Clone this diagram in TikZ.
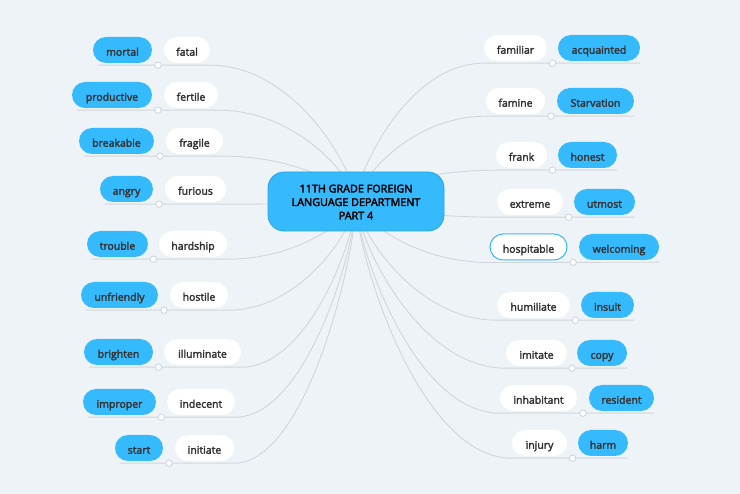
\documentclass[tikz,border=0pt]{standalone}
\usepackage{fontspec}
\newfontfamily\mapfont{Open Sans}[FakeBold=2.6]
\newfontfamily\rootfont{Open Sans}[FakeBold=3.2]
\usetikzlibrary{calc}
\definecolor{bg}{HTML}{EEF3F7}
\definecolor{nodeblue}{HTML}{35BAFD}
\definecolor{rootedge}{HTML}{27A6E6}
\definecolor{txt}{HTML}{333333}
\definecolor{conn}{HTML}{D0D6DB}
\pgfdeclarelayer{front}
\pgfsetlayers{main,front}
\tikzset{
  leaf/.style={rounded corners=13pt, minimum height=26pt, inner sep=0pt,
    text height=11.5pt, text depth=0pt,
    font=\mapfont\fontsize{10.5}{12}\selectfont, text=txt},
  bluebox/.style={leaf, fill=nodeblue},
  whitebox/.style={leaf, fill=white},
  picked/.style={draw=nodeblue, line width=1pt},
  link/.style={draw=conn, line width=0.9pt},
  joint/.style={circle, draw=conn, fill=white, minimum size=6.5pt, inner sep=0pt, line width=0.9pt},
  rootbox/.style={rounded corners=16pt, fill=nodeblue, draw=rootedge, line width=0.8pt,
    minimum width=176pt, minimum height=59pt, inner sep=0pt, align=center,
    font=\rootfont\fontsize{10.8}{13.5}\selectfont, text=black},
}
% left pair: id, blue text, bx1, bx2, white text, wx1, wx2, ytop
\newcommand\lpair[8]{%
  \node[bluebox, minimum width={#4pt-#3pt}] (b#1) at ({(#3+#4)/2},{#8+13}) {#2};
  \node[whitebox, minimum width={#7pt-#6pt}] (w#1) at ({(#6+#7)/2},{#8+13}) {#5};}
% right pair: [extra], id, white text, wx1, wx2, blue text, bx1, bx2, ytop
\newcommand\rpair[9][]{%
  \node[whitebox, minimum width={#5pt-#4pt}, #1] (w#2) at ({(#4+#5)/2},{#9+13}) {#3};
  \node[bluebox, minimum width={#8pt-#7pt}] (b#2) at ({(#7+#8)/2},{#9+13}) {#6};}
\newcommand\llink[1]{%
  \coordinate (e#1) at ([yshift=-2pt]w#1.south east);
  \coordinate (f#1) at ([xshift=5pt,yshift=-2pt]b#1.south west);
  \coordinate (k#1) at (root.center |- e#1);
  \draw[link] (root.center) .. controls ($(root.center)!0.2!(k#1)$) and ($(e#1)!0.6!(k#1)$) .. (e#1) -- (f#1);
  \node[joint] (j#1) at ($([yshift=-2pt]b#1.south east)!0.5!([yshift=-2pt]w#1.south west)$) {};}
\newcommand\rlink[1]{%
  \coordinate (e#1) at ([yshift=-2pt]w#1.south west);
  \coordinate (f#1) at ([yshift=-2pt]b#1.south east);
  \coordinate (k#1) at (root.center |- e#1);
  \draw[link] (root.center) .. controls ($(root.center)!0.2!(k#1)$) and ($(e#1)!0.6!(k#1)$) .. (e#1) -- (f#1);
  \node[joint] (j#1) at ($([yshift=-2pt]w#1.south east)!0.5!([yshift=-2pt]b#1.south west)$) {};}
\begin{document}
\begin{tikzpicture}[x=1pt,y=-1pt]
\fill[bg] (0,0) rectangle (740,494);
\useasboundingbox (0,0) rectangle (740,494);
\begin{pgfonlayer}{front}
\node[rootbox] (root) at (356,201.5) {\rule{0pt}{9pt}11TH GRADE FOREIGN\\LANGUAGE DEPARTMENT\\PART 4};
\end{pgfonlayer}
\lpair{1}{mortal}{93}{152}{fatal}{164}{210}{37}
\lpair{2}{productive}{72}{152}{fertile}{164}{218}{82}
\lpair{3}{breakable}{79}{154}{fragile}{166}{223}{128}
\lpair{4}{angry}{100}{153}{furious}{165}{226}{176}
\lpair{5}{trouble}{87}{148}{hardship}{159}{227}{231}
\lpair{6}{unfriendly}{81}{158}{hostile}{170}{228}{282}
\lpair{7}{brighten}{84}{153}{illuminate}{164}{241}{339}
\lpair{8}{improper}{83}{156}{indecent}{167}{235}{389}
\lpair{9}{start}{115}{163}{initiate}{175}{234}{435}
\rpair{10}{familiar}{484}{547}{acquainted}{558}{640}{35}
\rpair{11}{famine}{486}{545}{Starvation}{557}{634}{88}
\rpair{12}{frank}{496}{547}{honest}{558}{617}{142}
\rpair{13}{extreme}{497}{563}{utmost}{574}{635}{189}
\rpair[picked]{14}{hospitable}{490}{567}{welcoming}{579}{659}{234}
\rpair{15}{humiliate}{497}{570}{insult}{581}{634}{292}
\rpair{16}{imitate}{506}{567}{copy}{577}{627}{340}
\rpair{17}{inhabitant}{500}{577}{resident}{589}{654}{385}
\rpair{18}{injury}{512}{567}{harm}{578}{628}{430}
\llink{1}\llink{2}\llink{3}\llink{4}\llink{5}\llink{6}\llink{7}\llink{8}\llink{9}
\rlink{10}\rlink{11}\rlink{12}\rlink{13}\rlink{14}\rlink{15}\rlink{16}\rlink{17}\rlink{18}
\end{tikzpicture}
\end{document}
